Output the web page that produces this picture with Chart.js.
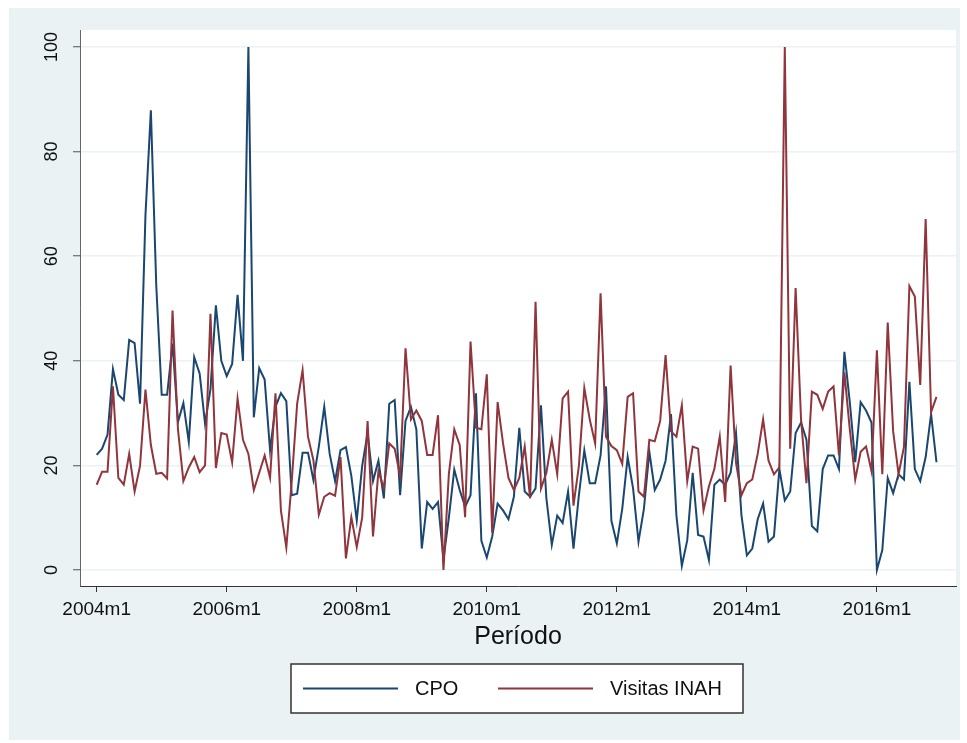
<!DOCTYPE html>
<html>
<head>
<meta charset="utf-8">
<script src="https://cdn.jsdelivr.net/npm/chart.js@4.4.1/dist/chart.umd.min.js"></script>
<style>
  html, body { margin: 0; padding: 0; background: #fff; }
  #wrap { width: 967px; height: 743px; position: relative; }
</style>
</head>
<body>
<div id="wrap"><canvas id="chart"></canvas></div>
<script>
// Monthly periods 2004m1 .. 2016m12
const periods = [];
for (let y = 2004; y <= 2016; y++) {
    for (let m = 1; m <= 12; m++) periods.push(y + 'm' + m);
}

const xTickLabels = ['2004m1', '2006m1', '2008m1', '2010m1', '2012m1', '2014m1', '2016m1'];
const yTicks = [0, 20, 40, 60, 80, 100];

// CPO index (one row per year)
const cpo = [
    22, 23.2, 25.9, 38.4, 33.5, 32.5, 44, 43.4, 31.8, 67.8, 87.9, 54.3,
    33.5, 33.5, 43.3, 28.3, 31.9, 24.5, 40.7, 37.6, 28, 34.6, 50.6, 40,
    37.1, 39.4, 52.6, 40, 100, 29.2, 38.6, 36.4, 22.9, 31.2, 33.8, 32.3,
    14.3, 14.6, 22.4, 22.4, 17.2, 23.6, 31.2, 22.2, 17, 22.9, 23.5, 18,
    9.5, 19.9, 26.2, 17, 20.9, 13.7, 31.8, 32.5, 14.3, 28.5, 31.2, 26.9,
    4.1, 13, 11.7, 13, 2, 10, 19.2, 15.3, 12.1, 14.3, 33.8, 5.6,
    2.4, 6.4, 12.7, 11.4, 9.7, 14, 27.2, 15, 14, 15.6, 31.5, 13.7,
    4.8, 10.4, 9, 15, 4.1, 14.3, 22.9, 16.6, 16.6, 21.9, 35.1, 9.4,
    5.1, 11.7, 21.6, 15.6, 5.4, 11.7, 22.6, 15.3, 17.3, 20.9, 29.8, 10.4,
    0.8, 5.7, 18.6, 6.7, 6.4, 1.9, 16.3, 17.3, 16.3, 18.6, 26.2, 10.5,
    2.8, 4.1, 9.7, 12.7, 5.4, 6.4, 19.3, 13.3, 15, 26.2, 28.2, 24.9,
    8.4, 7.4, 19.3, 21.9, 21.9, 19.3, 41.7, 32.1, 20.6, 32.1, 30.5, 28.2,
    0, 3.8, 17.6, 14.7, 18.3, 17.3, 36, 19.3, 17, 21.6, 29.8, 20.6
];

// Visitas INAH index
const visitasInah = [
    16.3, 18.8, 18.8, 35.1, 17.6, 16.3, 22.2, 15, 19.9, 34.5, 23.9, 18.4,
    18.6, 17.5, 49.6, 26.9, 17, 19.6, 21.6, 18.7, 20, 49, 19.5, 26.2,
    25.9, 20.6, 32.8, 24.9, 22.2, 15.3, 18.6, 21.9, 17.6, 33.8, 11.4, 4.3,
    17, 31.8, 38.2, 25.5, 21, 10.6, 14, 14.7, 14.2, 21.6, 2.2, 10.1,
    4.4, 10, 28.5, 6.4, 18.9, 15.6, 24.2, 23.2, 18, 42.4, 28.8, 30.5,
    28.5, 22, 22, 29.6, 0, 18.4, 26.9, 23.9, 10.1, 43.7, 27.2, 26.9,
    37.4, 7.1, 32.1, 24.2, 17.6, 15.3, 17.6, 23.6, 13.7, 51.3, 15.6, 18.6,
    24.9, 18.3, 32.8, 34.1, 12.3, 19.9, 34.8, 28.8, 24.2, 52.9, 25.5, 23.7,
    22.9, 20.3, 33.1, 33.8, 15, 14, 24.9, 24.6, 28.5, 41.1, 26.5, 25.5,
    31.5, 17, 23.6, 23.2, 11.4, 16, 19.3, 25.5, 13, 39.1, 20.5, 14.3,
    16.6, 17.3, 22.2, 28.8, 20.9, 18.3, 19.6, 100, 23.2, 53.9, 28.8, 16.6,
    34.1, 33.5, 30.8, 34.1, 35.1, 21.9, 37.8, 26.9, 17.3, 22.6, 23.6, 18.9,
    42, 18.3, 47.3, 26.5, 18.3, 23.6, 54.3, 52.3, 35.4, 67.1, 30.2, 33.1
];

const FONT = '"Liberation Sans", Arial, sans-serif';
const BG = '#eaf2f3';
const xTickIdx = xTickLabels.map(l => periods.indexOf(l));

// Stata-like background: light graph region, white plot region
const bgPlugin = {
    id: 'bg',
    beforeDraw(chart) {
        const { ctx, chartArea: a } = chart;
        ctx.save();
        ctx.fillStyle = '#fff';
        ctx.fillRect(0, 0, chart.width, chart.height);
        ctx.fillStyle = BG;
        ctx.fillRect(9, 8, 951, 732);
        ctx.fillStyle = '#fff';
        ctx.fillRect(a.left, a.top, a.right - a.left, a.bottom - a.top);
        ctx.restore();
    }
};

// Vertical y tick labels (read bottom to top)
const yLabelPlugin = {
    id: 'yLabels',
    afterDraw(chart) {
        const { ctx } = chart;
        const y = chart.scales.y;
        ctx.save();
        ctx.fillStyle = '#111';
        ctx.font = '18px ' + FONT;
        ctx.textAlign = 'center';
        ctx.textBaseline = 'middle';
        yTicks.forEach(v => {
            ctx.save();
            ctx.translate(52, y.getPixelForValue(v));
            ctx.rotate(-Math.PI / 2);
            ctx.fillText(String(v), 0, 0);
            ctx.restore();
        });
        ctx.restore();
    }
};

// Boxed legend below the axis title
const legendPlugin = {
    id: 'boxLegend',
    afterDraw(chart) {
        const { ctx } = chart;
        const box = { x: 291, y: 664, w: 452, h: 49 };
        ctx.save();
        ctx.fillStyle = '#fff';
        ctx.fillRect(box.x, box.y, box.w, box.h);
        ctx.strokeStyle = '#333';
        ctx.lineWidth = 1.5;
        ctx.strokeRect(box.x, box.y, box.w, box.h);
        const cy = box.y + box.h / 2;
        const items = [
            { x: 303, tx: 415 },
            { x: 498, tx: 610 }
        ];
        ctx.font = '20px ' + FONT;
        ctx.textBaseline = 'middle';
        ctx.textAlign = 'left';
        chart.data.datasets.forEach((ds, i) => {
            const it = items[i];
            ctx.strokeStyle = ds.borderColor;
            ctx.lineWidth = 2;
            ctx.beginPath();
            ctx.moveTo(it.x, cy);
            ctx.lineTo(it.x + 95, cy);
            ctx.stroke();
            ctx.fillStyle = '#111';
            ctx.fillText(ds.label, it.tx, cy + 1);
        });
        ctx.restore();
    }
};

new Chart(document.getElementById('chart'), {
    type: 'line',
    data: {
        datasets: [
            {
                label: 'CPO',
                data: cpo.map((v, i) => ({ x: i, y: v })),
                borderColor: '#1a476f',
                borderWidth: 2,
                pointRadius: 0,
                tension: 0,
                order: 1,
            },
            {
                label: 'Visitas INAH',
                data: visitasInah.map((v, i) => ({ x: i, y: v })),
                borderColor: '#90353b',
                borderWidth: 2,
                pointRadius: 0,
                tension: 0,
                order: 0,
            },
        ],
    },
    options: {
        responsive: true,
        maintainAspectRatio: false,
        animation: false,
        layout: { padding: { left: 10, right: 11, top: 30, bottom: 87 } },
        plugins: {
            legend: { display: false },
            tooltip: { enabled: false },
        },
        scales: {
            x: {
                type: 'linear',
                min: -3.08,
                max: 158.6,
                afterBuildTicks: s => { s.ticks = xTickIdx.map(v => ({ value: v })); },
                afterFit: s => { s.height = 70; },
                ticks: {
                    callback: v => periods[v],
                    font: { family: FONT, size: 19 },
                    color: '#111',
                    padding: 6,
                    maxRotation: 0,
                    autoSkip: false,
                },
                grid: { drawOnChartArea: false, tickLength: 6, tickColor: '#333', tickWidth: 1 },
                border: { color: '#333', width: 1 },
                title: {
                    display: true,
                    text: 'Período',
                    font: { family: FONT, size: 25 },
                    color: '#111',
                    padding: { top: 0, bottom: 4 },
                },
            },
            y: {
                min: -3.06,
                max: 103.25,
                afterBuildTicks: s => { s.ticks = yTicks.map(v => ({ value: v })); },
                afterFit: s => { s.width = 70; },
                ticks: { display: false },
                grid: { color: BG, lineWidth: 1.5, drawTicks: true, tickLength: 7, tickColor: '#555', tickWidth: 1 },
                border: { color: '#666', width: 1 },
            },
        },
    },
    plugins: [bgPlugin, yLabelPlugin, legendPlugin],
});
</script>
</body>
</html>
